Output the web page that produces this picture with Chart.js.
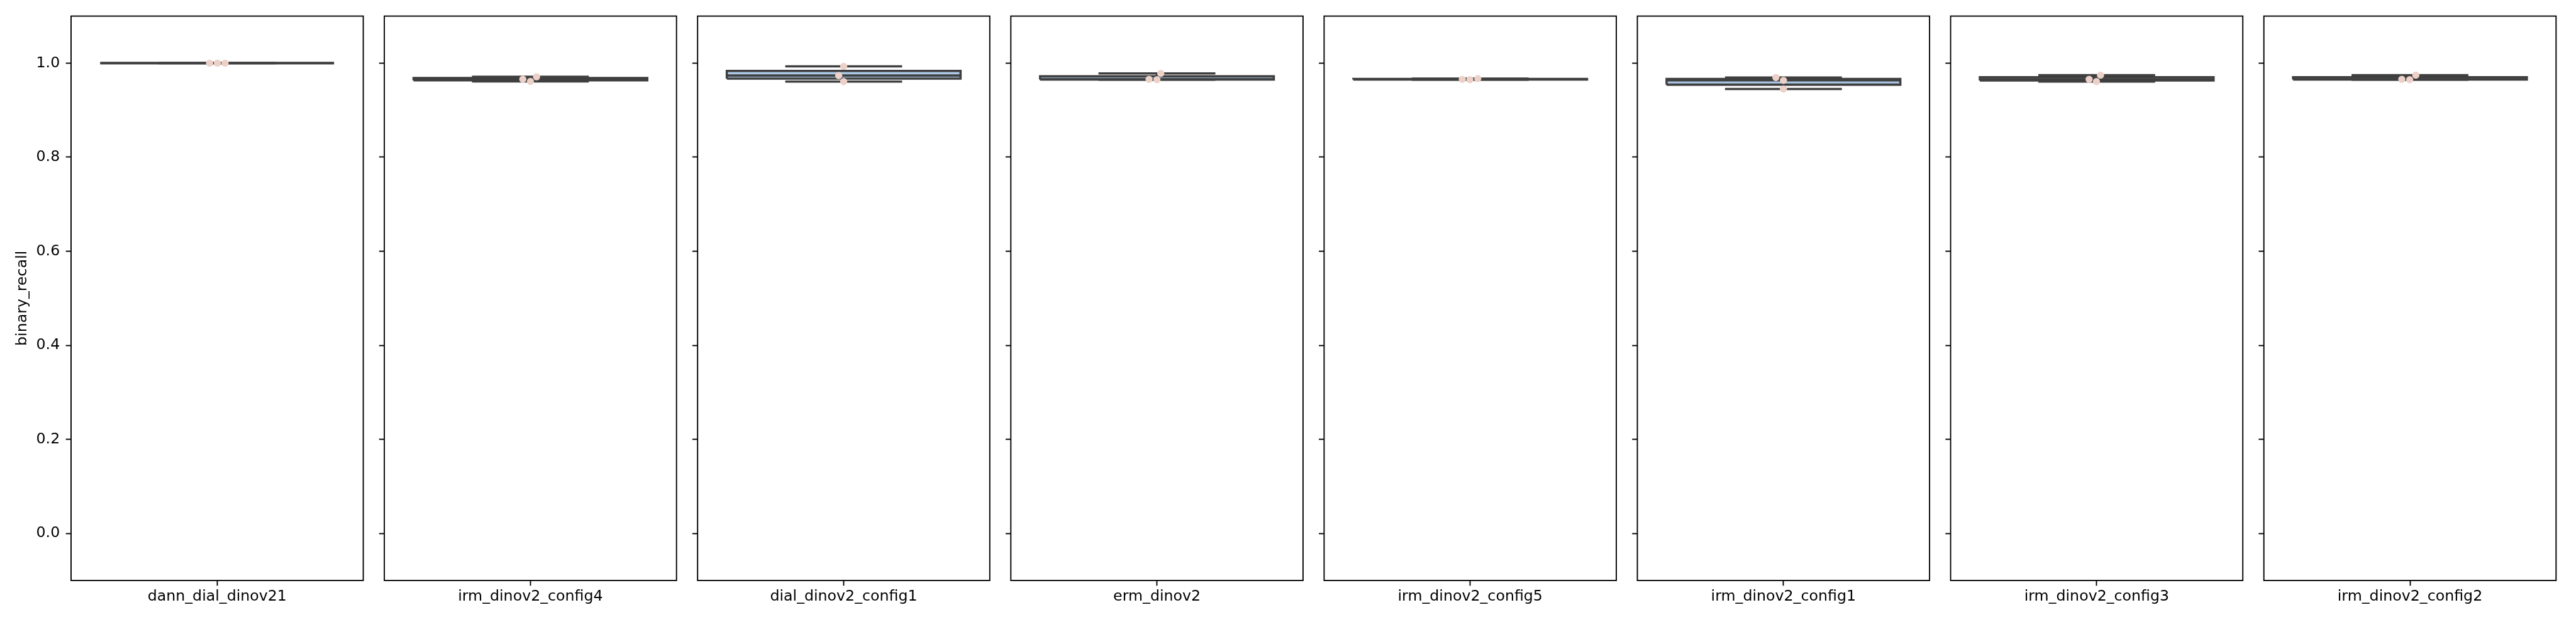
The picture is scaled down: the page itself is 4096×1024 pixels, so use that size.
<!DOCTYPE html>
<html lang="en">
<head>
  <meta charset="UTF-8">
  <title>binary_recall per model</title>
  <script src="https://cdn.jsdelivr.net/npm/chart.js"></script>
  <style>
    html, body { margin: 0; padding: 0; background: #fff; }
    #wrap { position: relative; width: 4096px; height: 1024px; overflow: hidden; }
    #wrap canvas { position: absolute; left: 0; top: 0; }
  </style>
</head>
<body>
  <div id="wrap"></div>

  <script>
    const categories = ['dann_dial_dinov21', 'irm_dinov2_config4', 'dial_dinov2_config1', 'erm_dinov2',
                        'irm_dinov2_config5', 'irm_dinov2_config1', 'irm_dinov2_config3', 'irm_dinov2_config2'];

    // the three runs of each model (strip points)
    const runValues = [
      [1.0, 1.0, 1.0],
      [0.9658, 0.9610, 0.9709],
      [0.9932, 0.9736, 0.9607],
      [0.9656, 0.9648, 0.9782],
      [0.9656, 0.9648, 0.9671],
      [0.9695, 0.9633, 0.9450],
      [0.9656, 0.9607, 0.9744],
      [0.9656, 0.9648, 0.9744]
    ];
    // horizontal jitter of those points, in category units
    const runJitter = [
      [-0.026, 0.001, 0.027],
      [-0.026, 0.000, 0.021],
      [0.000, -0.017, 0.000],
      [-0.027, 0.000, 0.013],
      [-0.027, -0.001, 0.026],
      [-0.026, 0.000, 0.000],
      [-0.026, -0.001, 0.013],
      [-0.028, -0.001, 0.020]
    ];

    // box statistics
    const q1          = [1.0, 0.9634, 0.9672, 0.9652, 0.9652, 0.9542, 0.9632, 0.9652];
    const medians     = [1.0, 0.9658, 0.9736, 0.9656, 0.9656, 0.9633, 0.9656, 0.9656];
    const q3          = [1.0, 0.9684, 0.9834, 0.9719, 0.9664, 0.9664, 0.9700, 0.9700];
    const whiskerLow  = [1.0, 0.9610, 0.9607, 0.9648, 0.9648, 0.9450, 0.9607, 0.9648];
    const whiskerHigh = [1.0, 0.9709, 0.9932, 0.9782, 0.9671, 0.9695, 0.9744, 0.9744];

    const yTicks = [0.0, 0.2, 0.4, 0.6, 0.8, 1.0];
    const yTickLabels = ['0.0', '0.2', '0.4', '0.6', '0.8', '1.0'];
    const yTitle = 'binary_recall';

    // layout (px in the 4096x1024 window)
    const W = 4096, H = 1024;
    const firstLeft = 113, pitch = 498.1, panelW = 464.6;
    const plotTop = 25.6, plotBottom = 923;
    const boxHalf = 0.4, capHalf = 0.2;

    const edge = '#3f3f3f';
    const boxFill = '#abc7e4';
    const dotColor = '#ecd1c9';
    const lw = 3.55;
    const fontSpec = { family: 'DejaVu Sans', size: 23.7 };

    Chart.defaults.font.family = 'DejaVu Sans';
    Chart.defaults.color = '#000';

    // matplotlib style frame round each panel
    const frame = {
      id: 'frame',
      afterDraw(chart) {
        const { ctx, chartArea: a } = chart;
        ctx.save();
        ctx.strokeStyle = '#000';
        ctx.lineWidth = 1.9;
        ctx.strokeRect(a.left, a.top, a.right - a.left, a.bottom - a.top);
        ctx.restore();
      }
    };

    const wrap = document.getElementById('wrap');

    categories.forEach((name, i) => {
      const canvas = document.createElement('canvas');
      canvas.width = W;
      canvas.height = H;
      wrap.appendChild(canvas);

      const left = firstLeft + i * pitch;
      const yAxW = i === 0 ? firstLeft : 12;

      const lineSet = (data) => ({
        data: data,
        showLine: true,
        spanGaps: false,
        borderColor: edge,
        borderWidth: lw,
        borderCapStyle: 'butt',
        pointRadius: 0,
        fill: false
      });

      new Chart(canvas.getContext('2d'), {
        type: 'scatter',
        data: {
          datasets: [
            {
              // strip points, on top
              data: runValues[i].map((v, j) => ({ x: runJitter[i][j], y: v })),
              backgroundColor: dotColor,
              borderWidth: 0,
              pointRadius: 5.7,
              showLine: false
            },
            lineSet([{ x: -boxHalf, y: medians[i] }, { x: boxHalf, y: medians[i] }]),
            lineSet([
              { x: -capHalf, y: whiskerHigh[i] }, { x: capHalf, y: whiskerHigh[i] },
              { x: 0, y: null },
              { x: -capHalf, y: whiskerLow[i] }, { x: capHalf, y: whiskerLow[i] }
            ]),
            lineSet([
              { x: 0, y: q3[i] }, { x: 0, y: whiskerHigh[i] },
              { x: 0, y: null },
              { x: 0, y: q1[i] }, { x: 0, y: whiskerLow[i] }
            ]),
            Object.assign(lineSet([
              { x: -boxHalf, y: q1[i] }, { x: -boxHalf, y: q3[i] },
              { x: boxHalf, y: q3[i] }, { x: boxHalf, y: q1[i] },
              { x: -boxHalf, y: q1[i] }
            ]), { fill: 'shape', backgroundColor: boxFill, borderJoinStyle: 'miter' })
          ]
        },
        options: {
          responsive: false,
          animation: false,
          devicePixelRatio: 1,
          events: [],
          layout: {
            padding: { left: left - yAxW, right: W - left - panelW, top: plotTop, bottom: 0 }
          },
          plugins: {
            legend: { display: false },
            tooltip: { enabled: false }
          },
          scales: {
            x: {
              type: 'linear',
              min: -0.5,
              max: 0.5,
              afterBuildTicks: (s) => { s.ticks = [{ value: 0 }]; },
              afterFit: (s) => { s.height = H - plotBottom; },
              ticks: {
                callback: () => name,
                font: fontSpec,
                color: '#000',
                padding: 3,
                maxRotation: 0,
                autoSkip: false
              },
              grid: { drawOnChartArea: false, tickLength: 8.3, tickWidth: 1.9, tickColor: '#000' },
              border: { display: false }
            },
            y: {
              type: 'linear',
              min: -0.1,
              max: 1.1,
              afterBuildTicks: (s) => { s.ticks = yTicks.map(v => ({ value: v })); },
              afterFit: (s) => { s.width = yAxW; },
              ticks: {
                display: i === 0,
                callback: (v, idx) => yTickLabels[idx],
                font: fontSpec,
                color: '#000',
                padding: 9.5
              },
              grid: { drawOnChartArea: false, tickLength: 8.3, tickWidth: 1.9, tickColor: '#000' },
              border: { display: false },
              title: {
                display: i === 0,
                text: yTitle,
                font: fontSpec,
                color: '#000',
                padding: { top: 21.8, bottom: 0 }
              }
            }
          }
        },
        plugins: [frame]
      });
    });
  </script>
</body>
</html>
